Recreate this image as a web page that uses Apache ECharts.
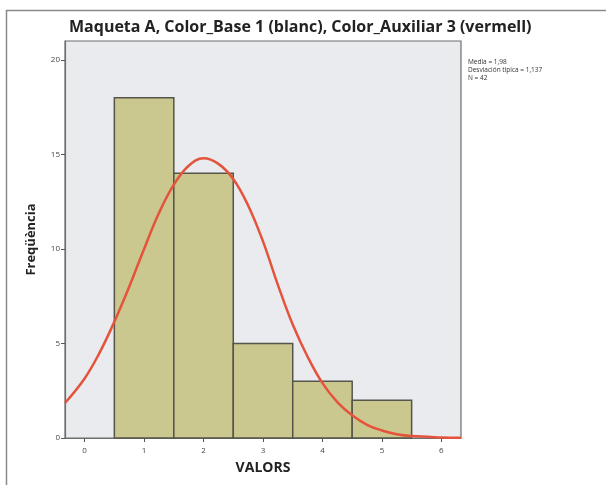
<!DOCTYPE html>
<html><head><meta charset="utf-8">
<script src="https://cdn.jsdelivr.net/npm/echarts@6/dist/echarts.min.js"></script>
<style>html,body{margin:0;padding:0;background:#fff}#c{width:606px;height:485px}</style>
</head><body><div id="c"></div>
<script>
const binCenters = [1, 2, 3, 4, 5];
const binCounts = [18, 14, 5, 3, 2];
const binWidth = 1;
const curveX = [-0.33, 0, 0.25, 0.5, 0.75, 1.0, 1.25, 1.5, 1.75, 2.0, 2.25, 2.5, 2.75, 3.0, 3.25, 3.5, 3.75, 4.0, 4.25, 4.5, 4.75, 5.0, 5.25, 5.5, 6.0, 6.33];
const curveY = [1.85, 3.15, 4.5, 6.15, 8.0, 10.0, 11.9, 13.4, 14.4, 14.8, 14.5, 13.7, 12.3, 10.4, 8.1, 6.0, 4.3, 2.9, 1.9, 1.2, 0.7, 0.4, 0.2, 0.1, 0.03, 0.01];
const xTicks = [0, 1, 2, 3, 4, 5, 6];
const yTicks = [0, 5, 10, 15, 20];
const titleText = 'Maqueta A, Color_Base 1 (blanc), Color_Auxiliar 3 (vermell)';
const statsLines = ['Media = 1,98', 'Desviación típica = 1,137', 'N = 42'];

const chart = echarts.init(document.getElementById('c'), null, {renderer: 'canvas'});
const F = '"Open Sans", "DejaVu Sans", sans-serif';
chart.setOption({
  animation: false,
  backgroundColor: '#ffffff',
  title: {
    text: titleText, left: 64, top: 14,
    textStyle: {fontFamily: F, fontSize: 16, fontWeight: 'bold', color: '#222'}
  },
  grid: {left: 65, right: 145, top: 41, bottom: 47, show: true,
    backgroundColor: '#e9ebee', borderColor: '#6e6e6e', borderWidth: 1.2},
  xAxis: {
    type: 'value', min: -0.33, max: 6.33,
    name: 'VALORS', nameLocation: 'middle', nameGap: 23,
    nameTextStyle: {fontFamily: F, fontSize: 14, fontWeight: 'bold', color: '#222'},
    axisLine: {show: true, onZero: false, lineStyle: {color: '#6e6e6e', width: 1.2}},
    axisTick: {show: true, length: 4, customValues: xTicks, lineStyle: {color: '#555'}},
    axisLabel: {customValues: xTicks, fontFamily: F, fontSize: 8, color: '#444', margin: 9},
    splitLine: {show: false}
  },
  yAxis: {
    type: 'value', min: 0, max: 21,
    name: 'Freqüència', nameLocation: 'middle', nameGap: 27,
    nameTextStyle: {fontFamily: F, fontSize: 13, fontWeight: 'bold', color: '#222'},
    axisLine: {show: true, onZero: false, lineStyle: {color: '#6e6e6e', width: 1.2}},
    axisTick: {show: true, length: 4, customValues: yTicks, lineStyle: {color: '#555'}},
    axisLabel: {customValues: yTicks, fontFamily: F, fontSize: 8, color: '#444', margin: 5},
    splitLine: {show: false}
  },
  graphic: [
    {type: 'rect', shape: {x: 6.5, y: 10.5, width: 800, height: 800},
     style: {fill: 'none', stroke: '#8a8a8a', lineWidth: 1.5}, silent: true},
    {type: 'text', left: 468, top: 58,
     style: {text: statsLines.join('\n'), font: '6.5px ' + F, fill: '#333', lineHeight: 8}}
  ],
  series: [
    {
      type: 'custom',
      data: binCenters.map((c, i) => [c, binCounts[i]]),
      renderItem: function (params, api) {
        const c = api.value(0), v = api.value(1);
        const p0 = api.coord([c - binWidth / 2, v]);
        const p1 = api.coord([c + binWidth / 2, 0]);
        return {type: 'rect', shape: {x: p0[0], y: p0[1], width: p1[0] - p0[0], height: p1[1] - p0[1]},
          style: {fill: '#cac78f', stroke: '#55554a', lineWidth: 1.5}};
      },
      z: 2
    },
    {
      type: 'line', smooth: 0.4, showSymbol: false,
      data: curveX.map((x, i) => [x, curveY[i]]),
      lineStyle: {color: '#e5533c', width: 2.5},
      z: 3
    }
  ]
});
</script></body></html>
